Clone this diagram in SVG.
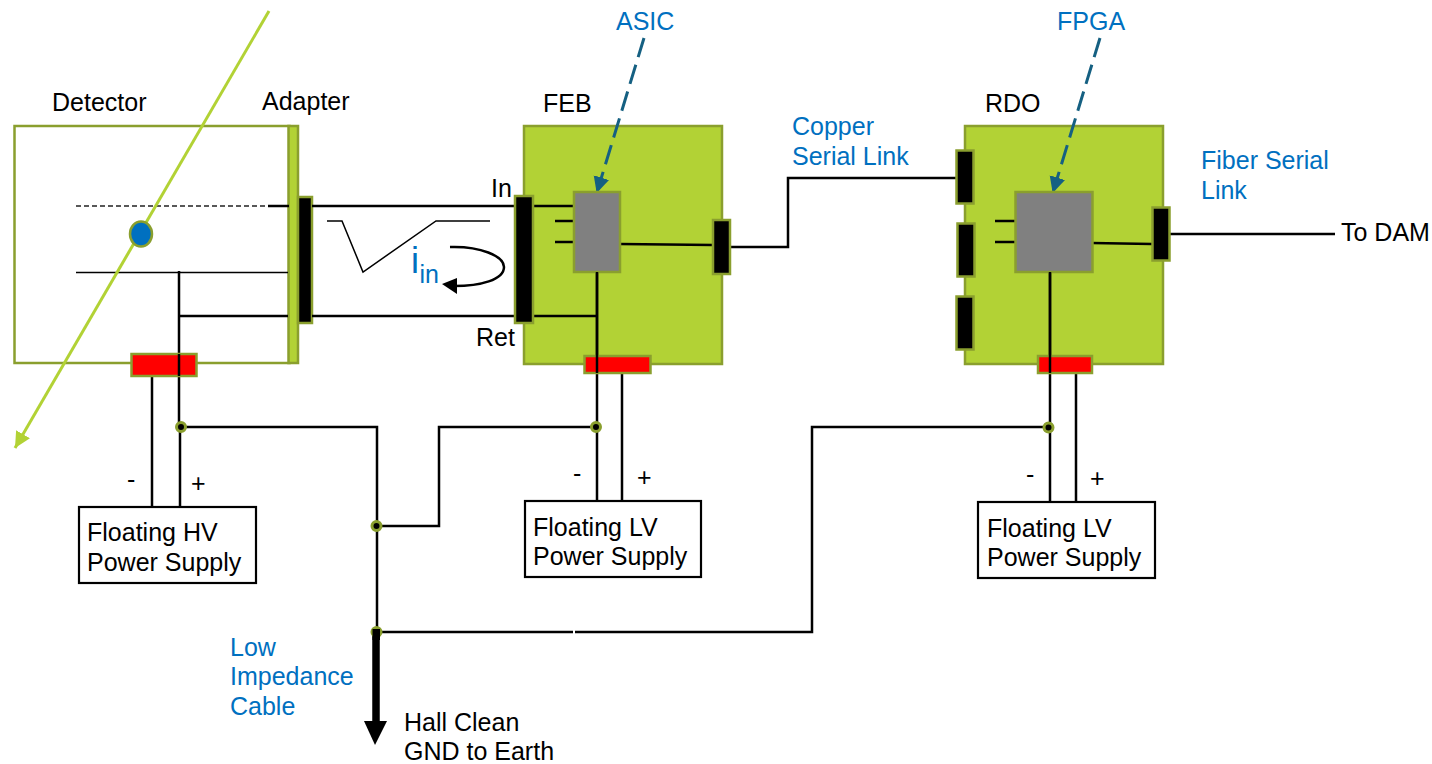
<svg xmlns="http://www.w3.org/2000/svg" width="1432" height="764" viewBox="0 0 1432 764">
<style>
text{font-family:"Liberation Sans",Arial,sans-serif;font-size:25px;fill:#000}
text.b{fill:#0070c0}
.o{stroke:#8a9f2e;stroke-width:2.500}
.g{fill:#b2d235}
.k{fill:#000}
.r{fill:#f00}
.y{fill:#808080}
.w{fill:#fff;stroke:#000;stroke-width:2.200}
.l{fill:none;stroke:#000;stroke-width:2.500}
.t{fill:none;stroke:#000;stroke-width:1.500}
.d{fill:#000;stroke:#8a9f2e;stroke-width:3}
</style>
<defs>
<marker id="ga" markerUnits="userSpaceOnUse" markerWidth="18" markerHeight="18" refX="16" refY="8" orient="auto"><path d="M0 0L16 8L0 16z" fill="#b2d235"/></marker>
<marker id="ba" markerUnits="userSpaceOnUse" markerWidth="18" markerHeight="18" refX="15" refY="8" orient="auto"><path d="M0 0L16 8L0 16z" fill="#156082"/></marker>
</defs>
<g id="detector">
<rect class="o" x="14.500" y="126" width="275" height="237" fill="#fff"/>
<text x="52" y="111">Detector</text>
</g>
<g id="adapter">
<rect class="o g" x="288.500" y="126" width="9.500" height="237"/>
<rect class="o k" x="298" y="197" width="14" height="126"/>
<text x="262" y="110">Adapter</text>
</g>
<g id="feb">
<rect class="o g" x="524" y="126" width="198" height="238"/>
<text x="543" y="112">FEB</text>
<text x="491" y="197">In</text>
<text x="476" y="346">Ret</text>
</g>
<g id="rdo">
<rect class="o g" x="965" y="126" width="198" height="238"/>
<text x="985" y="112">RDO</text>
</g>
<g id="connectors">
<path d="M76 206H268" fill="none" stroke="#222" stroke-width="1.500" stroke-dasharray="5 3"/>
<path class="l" d="M268 206H289M312 206H515M533 206H574M312 316H515M533 316H597"/>
<path class="t" d="M76 272.500H288"/>
<path class="l" d="M179 271V427M180 427V507M180 316H288M152 376V507"/>
<path class="l" d="M555 221H574M555 242H574"/>
<path class="l" d="M620 244L713 245M730 247H788V178H956"/>
<path class="l" d="M597 272V500M622 373V500"/>
<path class="l" d="M180 427H377V632M377 526H439V427H596"/>
<path class="l" d="M377 632H573M575 632H812V427H1048"/>
<path class="l" d="M995 221H1015M995 242H1015M1092 243L1152 244M1170 234H1335"/>
<path class="l" d="M1050 272V502M1076 373V502"/>
<path d="M376 632L376 722" fill="none" stroke="#000" stroke-width="7.500"/>
<path d="M364 721H387L375 745z" fill="#000"/>
<path d="M327 221H342L363 272L436 221H490" class="t"/>
<path d="M450 247C480 246 504 256 504 267C504 280 480 286 454 286" fill="none" stroke="#000" stroke-width="2.500"/>
<path d="M442 284L457 278V294z" fill="#000"/>
<path d="M269 11L15 448" fill="none" stroke="#b2d235" stroke-width="3" marker-end="url(#ga)"/>
<path d="M644 38L597 192" fill="none" stroke="#156082" stroke-width="3" stroke-dasharray="20 8" marker-end="url(#ba)"/>
<path d="M1100 38L1053 192" fill="none" stroke="#156082" stroke-width="3" stroke-dasharray="20 8" marker-end="url(#ba)"/>
</g>
<g id="detector-parts">
<ellipse class="o" cx="141" cy="234" rx="11" ry="12.500" fill="#0070c0"/>
<rect class="o r" x="131.500" y="354" width="65" height="22"/>
<path class="l" d="M179 354V376"/>
</g>
<g id="feb-parts">
<rect class="o k" x="515" y="196" width="18" height="127"/>
<rect class="o y" x="574" y="192" width="46" height="80"/>
<rect class="o k" x="713" y="220" width="17" height="54"/>
<rect class="o r" x="584.500" y="356" width="66" height="17"/>
<path class="l" d="M597 272V373"/>
</g>
<g id="rdo-parts">
<rect class="o k" x="956.500" y="150.500" width="17" height="53"/>
<rect class="o k" x="957.500" y="223.500" width="17" height="53"/>
<rect class="o k" x="956.500" y="296.500" width="17" height="53"/>
<rect class="o k" x="1152.500" y="207.500" width="17" height="53"/>
<rect class="o y" x="1015.500" y="192" width="77" height="80"/>
<rect class="o r" x="1038" y="356" width="54" height="17"/>
<path class="l" d="M1050 272V373"/>
</g>
<g id="junctions">
<circle class="d" cx="181" cy="427" r="4.500"/>
<circle class="d" cx="596" cy="427" r="4.500"/>
<circle class="d" cx="1048.500" cy="427.500" r="4.500"/>
<circle class="d" cx="376.500" cy="526" r="4.500"/>
<circle class="d" cx="376.500" cy="632" r="4.500"/>
<path d="M372.500 629H380V640H372.500z" fill="#000"/>
</g>
<g id="hv-supply">
<rect class="w" x="79" y="507" width="177" height="76"/>
<text x="87" y="541">Floating HV</text>
<text x="87" y="571">Power Supply</text>
</g>
<g id="lv-supply-1">
<rect class="w" x="525" y="501" width="176" height="76"/>
<text x="533" y="536">Floating LV</text>
<text x="533" y="565">Power Supply</text>
</g>
<g id="lv-supply-2">
<rect class="w" x="978" y="502" width="177" height="76"/>
<text x="987" y="537">Floating LV</text>
<text x="987" y="566">Power Supply</text>
</g>
<g id="labels">
<text x="127" y="488">-</text>
<text x="191" y="492">+</text>
<text x="573" y="482">-</text>
<text x="637" y="486">+</text>
<text x="1026" y="483">-</text>
<text x="1090" y="487">+</text>
<text class="b" x="616" y="30">ASIC</text>
<text class="b" x="1057" y="30">FPGA</text>
<text class="b" x="792" y="135">Copper</text>
<text class="b" x="792" y="165">Serial Link</text>
<text class="b" x="1201" y="169">Fiber Serial</text>
<text class="b" x="1201" y="199">Link</text>
<text x="1341" y="241">To DAM</text>
<text class="b" x="230" y="656">Low</text>
<text class="b" x="230" y="685">Impedance</text>
<text class="b" x="230" y="715">Cable</text>
<text x="404" y="731">Hall Clean</text>
<text x="404" y="760">GND to Earth</text>
<text class="b" x="411" y="273" style="font-size:36px">i</text>
<text class="b" x="419.500" y="283">in</text>
</g>
</svg>
